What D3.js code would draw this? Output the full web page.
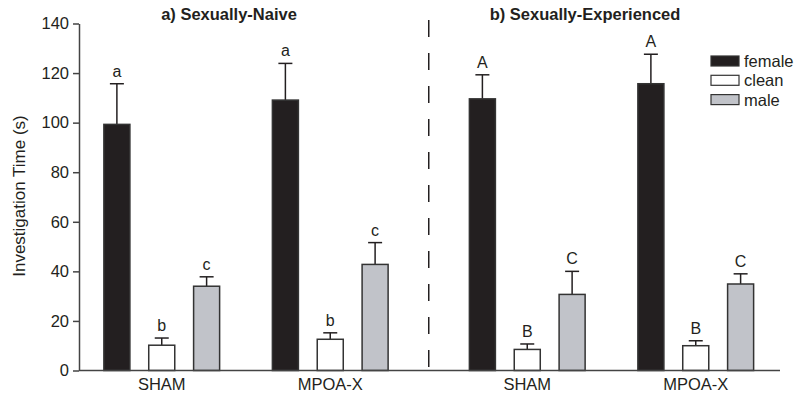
<!DOCTYPE html>
<html lang="en">
<head>
    <meta charset="UTF-8">
    <title>Investigation Time</title>
    <script src="https://cdn.jsdelivr.net/npm/d3@7/dist/d3.min.js"></script>
    <style>
        body { margin: 0; background: #fff; }
        text { font-family: "Liberation Sans", Arial, sans-serif; fill: #231f20; }
    </style>
</head>
<body>
<script>
    // data
    var panels = ["a) Sexually-Naive", "b) Sexually-Experienced"];
    var groups = ["SHAM", "MPOA-X"];
    var series = ["female", "clean", "male"];
    var colors = ["#231f20", "#ffffff", "#c1c3c9"];
    // means, order: panel a SHAM, a MPOA-X, b SHAM, b MPOA-X
    var femaleMean = [99.3, 109.1, 109.6, 115.7];
    var cleanMean = [10.2, 12.6, 8.5, 10];
    var maleMean = [34, 42.8, 30.7, 34.9];
    var femaleSem = [16.4, 14.8, 9.7, 11.9];
    var cleanSem = [2.9, 2.6, 2.2, 2];
    var maleSem = [3.8, 8.8, 9.3, 4.1];
    var letters = [["a", "b", "c"], ["a", "b", "c"], ["A", "B", "C"], ["A", "B", "C"]];
    var yTicks = [0, 20, 40, 60, 80, 100, 120, 140];

    var w = 800, h = 398;
    var mLeft = 79, mRight = 780, mTop = 23.5, mBottom = 370.5;

    var svg = d3.select("body").append("svg")
        .attr("width", w)
        .attr("height", h);

    var y = d3.scaleLinear().domain([0, 140]).range([mBottom, mTop]);

    var xPanel = d3.scaleBand().domain(panels).range([77.5, mRight]).paddingInner(0.078);
    var xGroup = d3.scaleBand().domain(groups).range([0, xPanel.bandwidth()]);
    var xBar = d3.scaleBand().domain(series).range([0, xGroup.bandwidth()])
        .paddingInner(0.42).paddingOuter(0.588);

    var means = [femaleMean, cleanMean, maleMean];
    var sems = [femaleSem, cleanSem, maleSem];
    var rows = [];
    panels.forEach(function (p, pi) {
        groups.forEach(function (g, gi) {
            var k = pi * 2 + gi;
            series.forEach(function (s, si) {
                rows.push({panel: p, group: g, s: s, si: si, v: means[si][k], e: sems[si][k], l: letters[k][si]});
            });
        });
    });
    function bx(d) { return xPanel(d.panel) + xGroup(d.group) + xBar(d.s); }

    // y axis
    svg.append("g")
        .attr("transform", "translate(" + mLeft + ",0)")
        .call(d3.axisLeft(y).tickValues(yTicks).tickSize(6).tickSizeOuter(0).tickPadding(4))
        .call(function (g) {
            g.select(".domain").attr("stroke", "#444").attr("stroke-width", 1.5);
            g.selectAll(".tick line").attr("stroke", "#444").attr("stroke-width", 1.5);
            g.selectAll(".tick text").attr("font-size", 16.5)
                .attr("font-family", "Liberation Sans, Arial, sans-serif").attr("fill", "#231f20");
        });

    svg.append("text")
        .attr("transform", "translate(25,196) rotate(-90)")
        .attr("text-anchor", "middle")
        .attr("font-size", 17)
        .text("Investigation Time (s)");

    // error bars
    var eb = svg.selectAll(".err").data(rows).enter().append("g").attr("class", "err");
    eb.append("line")
        .attr("x1", function (d) { return bx(d) + xBar.bandwidth() / 2; })
        .attr("x2", function (d) { return bx(d) + xBar.bandwidth() / 2; })
        .attr("y1", function (d) { return y(d.v); })
        .attr("y2", function (d) { return y(d.v + d.e); })
        .attr("stroke", "#231f20").attr("stroke-width", 1.5);
    eb.append("line")
        .attr("x1", function (d) { return bx(d) + xBar.bandwidth() / 2 - 7; })
        .attr("x2", function (d) { return bx(d) + xBar.bandwidth() / 2 + 7; })
        .attr("y1", function (d) { return y(d.v + d.e); })
        .attr("y2", function (d) { return y(d.v + d.e); })
        .attr("stroke", "#231f20").attr("stroke-width", 1.5);

    // bars
    svg.selectAll("rect.bar").data(rows).enter().append("rect")
        .attr("class", "bar")
        .attr("x", bx)
        .attr("y", function (d) { return y(d.v); })
        .attr("width", xBar.bandwidth())
        .attr("height", function (d) { return y(0) - y(d.v); })
        .attr("fill", function (d) { return colors[d.si]; })
        .attr("stroke", "#333")
        .attr("stroke-width", 1.5);

    // significance letters
    svg.selectAll("text.letter").data(rows).enter().append("text")
        .attr("class", "letter")
        .attr("x", function (d) { return bx(d) + xBar.bandwidth() / 2; })
        .attr("y", function (d) { return y(d.v + d.e) - 7; })
        .attr("text-anchor", "middle")
        .attr("font-size", 16)
        .text(function (d) { return d.l; });

    // x baseline
    svg.append("line")
        .attr("x1", mLeft).attr("x2", mRight)
        .attr("y1", y(0)).attr("y2", y(0))
        .attr("stroke", "#444").attr("stroke-width", 1.5);

    // group labels
    panels.forEach(function (p) {
        groups.forEach(function (g) {
            svg.append("text")
                .attr("x", xPanel(p) + xGroup(g) + xGroup.bandwidth() / 2)
                .attr("y", 390)
                .attr("text-anchor", "middle")
                .attr("font-size", 16.5)
                .text(g);
        });
    });

    // panel titles
    svg.selectAll("text.title").data(panels).enter().append("text")
        .attr("class", "title")
        .attr("x", function (d, i) { return i === 0 ? 229 : 585; })
        .attr("y", 20)
        .attr("text-anchor", "middle")
        .attr("font-size", 16.5)
        .attr("font-weight", "bold")
        .text(function (d) { return d; });

    // dashed divider between panels
    var divX = (xPanel(panels[0]) + xPanel.bandwidth() + xPanel(panels[1])) / 2;
    svg.append("line")
        .attr("x1", divX).attr("x2", divX)
        .attr("y1", 20).attr("y2", y(0))
        .attr("stroke", "#231f20").attr("stroke-width", 1.5)
        .attr("stroke-dasharray", "17,16");

    // legend
    var lg = svg.selectAll("g.legend").data(series).enter().append("g")
        .attr("class", "legend")
        .attr("transform", function (d, i) { return "translate(711," + (56 + i * 19.3) + ")"; });
    lg.append("rect")
        .attr("width", 28).attr("height", 10)
        .attr("fill", function (d, i) { return colors[i]; })
        .attr("stroke", "#333").attr("stroke-width", 1.2);
    lg.append("text")
        .attr("x", 33).attr("y", 11)
        .attr("font-size", 16.5)
        .text(function (d) { return d; });
</script>
</body>
</html>
